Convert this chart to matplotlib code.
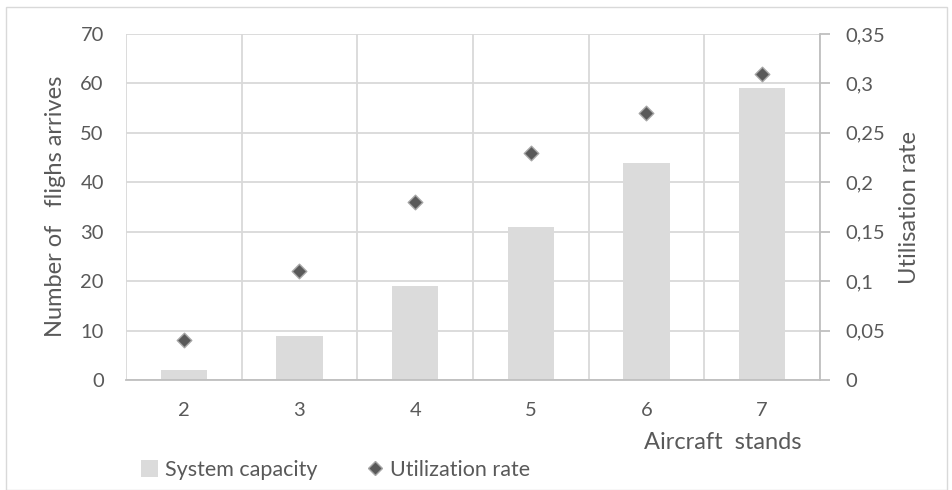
import matplotlib
matplotlib.use("Agg")
import matplotlib.pyplot as plt
from matplotlib.lines import Line2D
from matplotlib.patches import Patch, Rectangle
from matplotlib.ticker import FixedLocator, FuncFormatter

plt.rcParams['font.family'] = ['Lato', 'DejaVu Sans']

stands = ['2', '3', '4', '5', '6', '7']
capacity = [2, 9, 19, 31, 44, 59]
utilization = [0.04, 0.11, 0.18, 0.23, 0.27, 0.31]

text_col = '#595959'
grid_col = '#d9d9d9'
bar_col = '#dbdbdb'

fig = plt.figure(figsize=(9.52, 4.90), dpi=100)
fig.patches.append(Rectangle((6 / 952, 0.0), 941 / 952, 1 - 7 / 490, transform=fig.transFigure,
                             fill=False, edgecolor=grid_col, linewidth=1.0))

ax = fig.add_axes([126 / 952, 1 - 380 / 490, (820 - 126) / 952, (380 - 34) / 490])
ax2 = ax.twinx()

x = list(range(len(stands)))
ax.bar(x, capacity, width=0.4, color=bar_col, zorder=2)
ax.set_xlim(-0.5, len(stands) - 0.5)
ax.set_ylim(0, 70)
ax.set_yticks(range(0, 71, 10))
ax.set_xticks(x)
ax.set_xticklabels(stands)
ax.xaxis.set_minor_locator(FixedLocator([i - 0.5 for i in range(len(stands) + 1)]))
ax.grid(True, axis='y', which='major', color=grid_col, linewidth=1.3, zorder=0)
ax.grid(True, axis='x', which='minor', color=grid_col, linewidth=1.3, zorder=0)
ax.set_axisbelow(True)
ax.tick_params(axis='both', which='both', length=0, labelsize=14.5, colors=text_col)
ax.tick_params(axis='x', pad=16)
ax.tick_params(axis='y', pad=16)
for s in ['top', 'left', 'right']:
    ax.spines[s].set_visible(False)
ax.spines['bottom'].set_color('#bfbfbf')
ax.spines['bottom'].set_linewidth(1.3)

ax2.scatter(x, utilization, marker='D', s=55, color='#595959', edgecolor='#a6a6a6',
            linewidth=1.0, zorder=3)
ax2.set_ylim(0, 0.35)
ax2.set_yticks([0, 0.05, 0.1, 0.15, 0.2, 0.25, 0.3, 0.35])
ax2.yaxis.set_major_formatter(FuncFormatter(lambda v, p: ('%g' % round(v, 2)).replace('.', ',')))
ax2.tick_params(axis='y', length=7, width=1.3, labelsize=14.5, colors=text_col, pad=11)
ax2.tick_params(axis='y', color='#bfbfbf')
for s in ['top', 'left', 'bottom']:
    ax2.spines[s].set_visible(False)
ax2.spines['right'].set_color('#bfbfbf')
ax2.spines['right'].set_linewidth(1.3)

fig.text(55 / 952, 1 - 206 / 490, 'Number of   flighs arrives', rotation=90, ha='center', va='center',
         fontsize=17, color=text_col)
fig.text(909 / 952, 1 - 207 / 490, 'Utilisation rate', rotation=90, ha='center', va='center',
         fontsize=17, color=text_col)
fig.text(723 / 952, 1 - 442 / 490, 'Aircraft  stands', ha='center', va='center',
         fontsize=17, color=text_col)

handles = [Patch(facecolor=bar_col, edgecolor='none'),
           Line2D([], [], marker='D', linestyle='none', markersize=7.5, markerfacecolor='#595959',
                  markeredgecolor='#a6a6a6')]
fig.legend(handles, ['System capacity', 'Utilization rate'], loc='center left',
           bbox_to_anchor=(126 / 952, 1 - 470 / 490), ncol=2, frameon=False, fontsize=15.5,
           labelcolor=text_col, handlelength=0.8, handleheight=0.8, handletextpad=0.3,
           columnspacing=2.3, borderpad=0.2)

fig.savefig('out.png', dpi=100)
